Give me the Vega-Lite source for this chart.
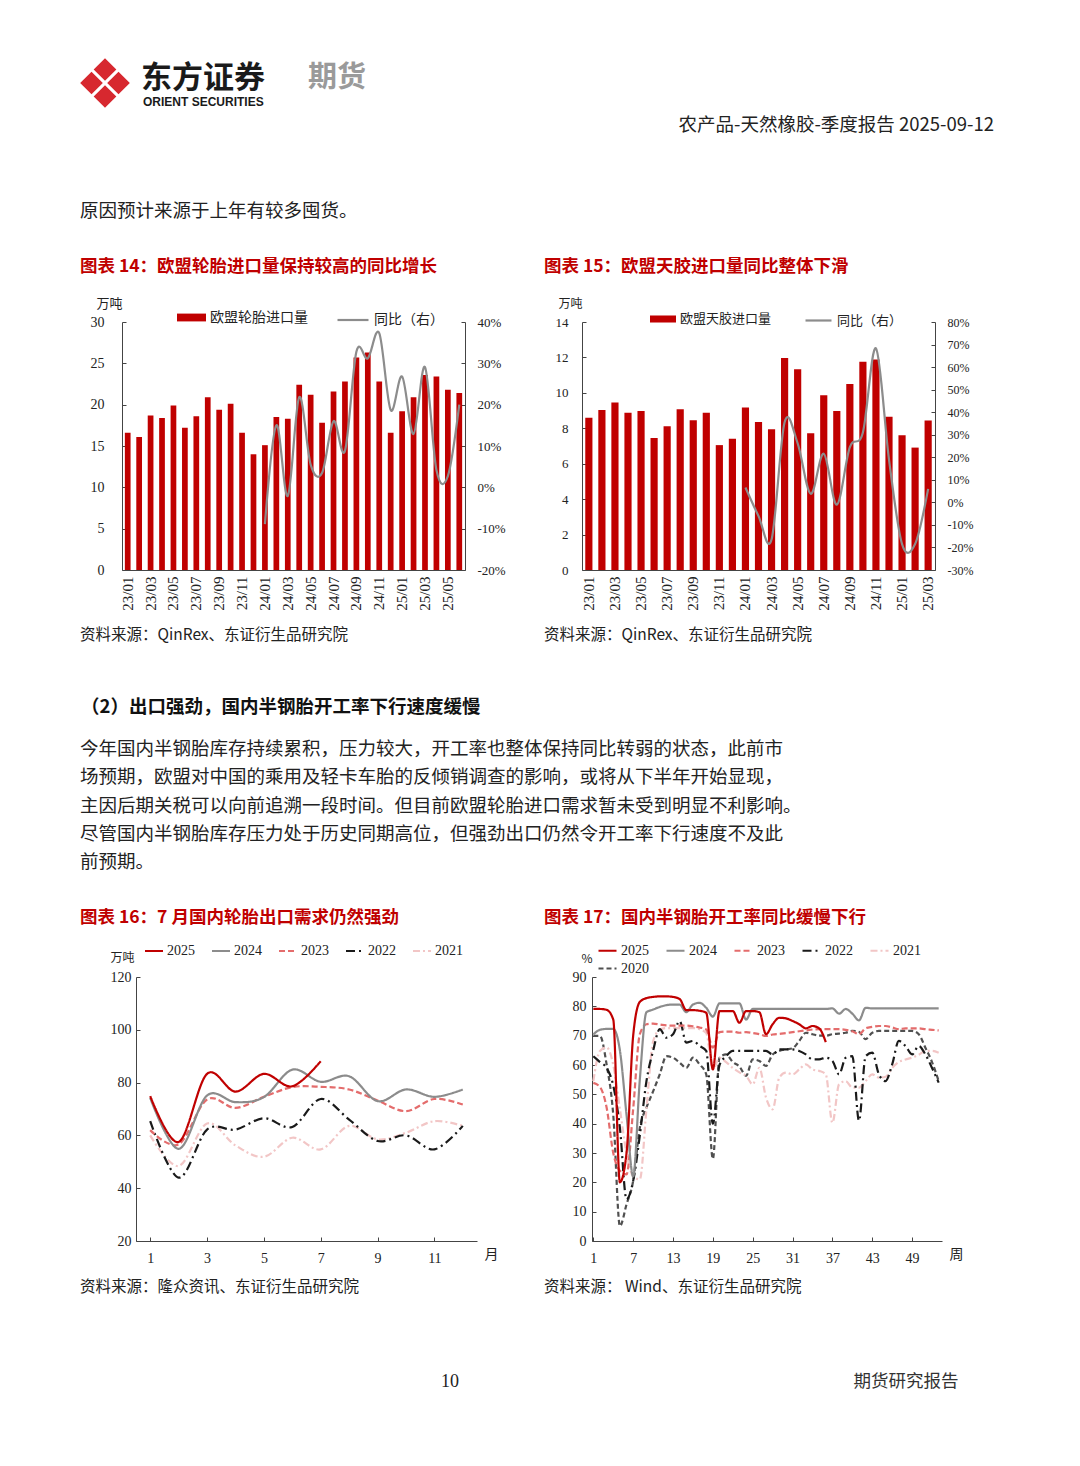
{
  "$schema": "https://vega.github.io/schema/vega-lite/v6.json",
  "padding": 0,
  "background": "#ffffff",
  "columns": 4,
  "align": "each",
  "bounds": "flush",
  "spacing": 0,
  "resolve": {
    "scale": {"fill": "independent", "stroke": "independent", "color": "independent", "strokeDash": "independent", "strokeWidth": "independent"},
    "legend": {"fill": "independent", "stroke": "independent", "color": "independent", "strokeDash": "independent", "strokeWidth": "independent"}
  },
  "config": {
    "view": {"stroke": null},
    "font": "Noto Sans CJK SC",
    "axis": {"grid": false, "labelFont": "Liberation Serif", "labelColor": "#222222", "domainColor": "#444444", "tickColor": "#444444", "titleFont": "Noto Sans CJK SC", "titleFontWeight": "normal", "titleColor": "#222222", "labelFontSize": 14},
    "legend": {"labelFont": "Noto Sans CJK SC", "labelColor": "#222222", "padding": 0},
    "text": {"font": "Noto Sans CJK SC"}
  },
  "concat": [
    {
      "width": 121, "height": 321,
      "data": {"values": [{}]},
      "layer": [
        {"mark": {"type": "point", "shape": "M0,-0.92L0.42,-0.5L0,-0.08L-0.42,-0.5Z M0.92,0L0.5,0.42L0.08,0L0.5,-0.42Z M0,0.92L-0.42,0.5L0,0.08L0.42,0.5Z M-0.92,0L-0.5,-0.42L-0.08,0L-0.5,0.42Z", "filled": true, "color": "#d7282f", "opacity": 1, "size": 2916, "x": 104, "y": 82, "strokeWidth": 0}, "encoding": {}},
        {"mark": {"type": "text", "x": 140, "y": 78, "text": "东方证券", "align": "left", "baseline": "middle", "fontSize": 31, "fontWeight": "bold", "color": "#1a1a1a"}, "encoding": {}},
        {"mark": {"type": "text", "x": 142, "y": 101, "text": "ORIENT SECURITIES", "align": "left", "baseline": "middle", "fontSize": 12, "fontWeight": "bold", "font": "Liberation Sans", "color": "#1a1a1a"}, "encoding": {}},
        {"mark": {"type": "rule", "x": 286, "x2": 286, "y": 55, "y2": 110, "color": "#d2c2a8", "strokeWidth": 1.2}, "encoding": {}},
        {"mark": {"type": "text", "x": 307, "y": 77, "text": "期货", "align": "left", "baseline": "middle", "fontSize": 29, "fontWeight": "bold", "color": "#9a9a9a"}, "encoding": {}},
        {"mark": {"type": "text", "x": 993, "y": 124, "text": "农产品-天然橡胶-季度报告 2025-09-12", "align": "right", "baseline": "middle", "fontSize": 18.5, "color": "#222222"}, "encoding": {}},
        {"mark": {"type": "rule", "x": 78, "x2": 1000, "y": 138, "y2": 138, "color": "#333333", "strokeWidth": 1.5}, "encoding": {}},
        {"mark": {"type": "text", "x": 79, "y": 210, "text": "原因预计来源于上年有较多囤货。", "align": "left", "baseline": "middle", "fontSize": 18.5, "color": "#222222"}, "encoding": {}},
        {"mark": {"type": "text", "x": 79, "y": 266, "text": "图表 14：欧盟轮胎进口量保持较高的同比增长", "align": "left", "baseline": "middle", "fontSize": 17.5, "fontWeight": "bold", "color": "#c00000"}, "encoding": {}},
        {"mark": {"type": "text", "x": 543, "y": 266, "text": "图表 15：欧盟天胶进口量同比整体下滑", "align": "left", "baseline": "middle", "fontSize": 17.5, "fontWeight": "bold", "color": "#c00000"}, "encoding": {}},
        {"mark": {"type": "rule", "x": 78, "x2": 517, "y": 281, "y2": 281, "color": "#555555", "strokeWidth": 1.2}, "encoding": {}},
        {"mark": {"type": "rule", "x": 543, "x2": 983, "y": 281, "y2": 281, "color": "#555555", "strokeWidth": 1.2}, "encoding": {}}
      ]
    },
    {"width": 343, "height": 321, "data": {"values": [{}]}, "mark": {"type": "text", "text": ""}},
    {"width": 117, "height": 321, "data": {"values": [{}]}, "mark": {"type": "text", "text": ""}},
    {"width": 353, "height": 321, "data": {"values": [{}]}, "mark": {"type": "text", "text": ""}},

    {"width": 121, "height": 248, "data": {"values": [{}]}, "mark": {"type": "text", "text": ""}},
    {
      "width": 343, "height": 248,
      "data": {"values": [
        {"m": "23/01", "v": 16.6}, {"m": "23/02", "v": 16.1}, {"m": "23/03", "v": 18.7}, {"m": "23/04", "v": 18.4},
        {"m": "23/05", "v": 19.9}, {"m": "23/06", "v": 17.2}, {"m": "23/07", "v": 18.6}, {"m": "23/08", "v": 20.9},
        {"m": "23/09", "v": 19.4}, {"m": "23/10", "v": 20.1}, {"m": "23/11", "v": 16.6}, {"m": "23/12", "v": 14.0},
        {"m": "24/01", "v": 15.1, "r": -8.9}, {"m": "24/02", "v": 18.5, "r": 15.0}, {"m": "24/03", "v": 18.3, "r": -2.1},
        {"m": "24/04", "v": 22.4, "r": 21.8}, {"m": "24/05", "v": 21.2, "r": 5.5}, {"m": "24/06", "v": 17.8, "r": 3.5},
        {"m": "24/07", "v": 21.6, "r": 16.0}, {"m": "24/08", "v": 22.8, "r": 8.8}, {"m": "24/09", "v": 25.7, "r": 32.8},
        {"m": "24/10", "v": 26.3, "r": 31.2}, {"m": "24/11", "v": 22.8, "r": 37.3}, {"m": "24/12", "v": 16.6, "r": 18.7},
        {"m": "25/01", "v": 19.2, "r": 26.8}, {"m": "25/02", "v": 20.9, "r": 12.9}, {"m": "25/03", "v": 23.6, "r": 29.1},
        {"m": "25/04", "v": 23.4, "r": 4.2}, {"m": "25/05", "v": 21.8, "r": 2.7}, {"m": "25/06", "v": 21.4, "r": 20.0}
      ]},
      "layer": [
        {"mark": {"type": "bar"},
         "encoding": {
           "x": {"field": "m", "type": "ordinal", "sort": "ascending", "scale": {"paddingInner": 0.5, "paddingOuter": 0.25},
                 "axis": {"values": ["23/01","23/03","23/05","23/07","23/09","23/11","24/01","24/03","24/05","24/07","24/09","24/11","25/01","25/03","25/05"], "labelAngle": 270, "labelFontSize": 15, "ticks": false, "labelPadding": 6, "title": null}},
           "y": {"field": "v", "type": "quantitative", "scale": {"domain": [0, 30]},
                 "axis": {"values": [0,5,10,15,20,25,30], "title": "万吨", "titleAngle": 0, "titleAlign": "left", "titleBaseline": "middle", "titleX": -26, "titleY": -19, "titleFontSize": 13, "tickSize": -4, "labelPadding": 22, "labelFontSize": 14}},
           "fill": {"datum": "欧盟轮胎进口量", "scale": {"range": ["#c00000"]},
                    "legend": {"orient": "none", "legendX": 55, "legendY": -19, "title": null, "symbolType": "M-1,-0.27L1,-0.27L1,0.27L-1,0.27Z", "symbolSize": 841, "symbolStrokeWidth": 0, "labelFontSize": 14}}
         }},
        {"mark": {"type": "line", "interpolate": "cardinal", "strokeWidth": 2.2},
         "encoding": {
           "x": {"field": "m", "type": "ordinal", "sort": "ascending"},
           "y": {"field": "r", "type": "quantitative", "scale": {"domain": [-20, 40]},
                 "axis": {"orient": "right", "values": [-20,-10,0,10,20,30,40], "labelExpr": "datum.value + '%'", "title": null, "tickSize": -4, "labelPadding": 16, "labelFontSize": 13}},
           "stroke": {"datum": "同比（右）", "scale": {"range": ["#8c8c8c"]},
                      "legend": {"orient": "none", "legendX": 214, "legendY": -19, "title": null, "symbolType": "stroke", "symbolSize": 961, "symbolStrokeWidth": 2.2, "labelFontSize": 14}}
         }}
      ],
      "resolve": {"scale": {"y": "independent"}}
    },
    {"width": 117, "height": 248, "data": {"values": [{}]}, "mark": {"type": "text", "text": ""}},
    {
      "width": 353, "height": 248,
      "data": {"values": [
        {"m": "23/01", "v": 8.6}, {"m": "23/02", "v": 9.03}, {"m": "23/03", "v": 9.45}, {"m": "23/04", "v": 8.88},
        {"m": "23/05", "v": 8.98}, {"m": "23/06", "v": 7.45}, {"m": "23/07", "v": 8.12}, {"m": "23/08", "v": 9.07},
        {"m": "23/09", "v": 8.46}, {"m": "23/10", "v": 8.88}, {"m": "23/11", "v": 7.05}, {"m": "23/12", "v": 7.41},
        {"m": "24/01", "v": 9.17, "r": 6.6}, {"m": "24/02", "v": 8.35, "r": -6}, {"m": "24/03", "v": 7.95, "r": -16.5},
        {"m": "24/04", "v": 11.97, "r": 35.5}, {"m": "24/05", "v": 11.33, "r": 26.2}, {"m": "24/06", "v": 7.72, "r": 3.8},
        {"m": "24/07", "v": 9.87, "r": 21.6}, {"m": "24/08", "v": 8.98, "r": -1}, {"m": "24/09", "v": 10.5, "r": 24.5},
        {"m": "24/10", "v": 11.75, "r": 31}, {"m": "24/11", "v": 11.88, "r": 68.3}, {"m": "24/12", "v": 8.65, "r": 19},
        {"m": "25/01", "v": 7.6, "r": -18.5}, {"m": "25/02", "v": 6.91, "r": -18.5}, {"m": "25/03", "v": 8.44, "r": 6}
      ]},
      "layer": [
        {"mark": {"type": "bar"},
         "encoding": {
           "x": {"field": "m", "type": "ordinal", "sort": "ascending", "scale": {"paddingInner": 0.45, "paddingOuter": 0.25},
                 "axis": {"values": ["23/01","23/03","23/05","23/07","23/09","23/11","24/01","24/03","24/05","24/07","24/09","24/11","25/01","25/03"], "labelAngle": 270, "labelFontSize": 15, "ticks": false, "labelPadding": 6, "title": null}},
           "y": {"field": "v", "type": "quantitative", "scale": {"domain": [0, 14]},
                 "axis": {"values": [0,2,4,6,8,10,12,14], "title": "万吨", "titleAngle": 0, "titleAlign": "left", "titleBaseline": "middle", "titleX": -24, "titleY": -19, "titleFontSize": 12, "tickSize": -4, "labelPadding": 18, "labelFontSize": 13}},
           "fill": {"datum": "欧盟天胶进口量", "scale": {"range": ["#c00000"]},
                    "legend": {"orient": "none", "legendX": 68, "legendY": -16, "title": null, "symbolType": "M-1,-0.27L1,-0.27L1,0.27L-1,0.27Z", "symbolSize": 676, "symbolStrokeWidth": 0, "labelFontSize": 13}}
         }},
        {"mark": {"type": "line", "interpolate": "cardinal", "strokeWidth": 2.2},
         "encoding": {
           "x": {"field": "m", "type": "ordinal", "sort": "ascending"},
           "y": {"field": "r", "type": "quantitative", "scale": {"domain": [-30, 80]},
                 "axis": {"orient": "right", "values": [-30,-20,-10,0,10,20,30,40,50,60,70,80], "labelExpr": "datum.value + '%'", "title": null, "tickSize": -4, "labelPadding": 16, "labelFontSize": 12}},
           "stroke": {"datum": "同比（右）", "scale": {"range": ["#8c8c8c"]},
                      "legend": {"orient": "none", "legendX": 222, "legendY": -16, "title": null, "symbolType": "stroke", "symbolSize": 676, "symbolStrokeWidth": 2.2, "labelFontSize": 13}}
         }}
      ],
      "resolve": {"scale": {"y": "independent"}}
    },

    {
      "width": 121, "height": 407,
      "data": {"values": [{}]},
      "layer": [
        {"mark": {"type": "rule", "x": 78, "x2": 517, "y": 51, "y2": 51, "color": "#555555", "strokeWidth": 1.2}, "encoding": {}},
        {"mark": {"type": "rule", "x": 543, "x2": 983, "y": 51, "y2": 51, "color": "#555555", "strokeWidth": 1.2}, "encoding": {}},
        {"mark": {"type": "text", "x": 79, "y": 65, "text": "资料来源：QinRex、东证衍生品研究院", "align": "left", "baseline": "middle", "fontSize": 15.5, "color": "#222222"}, "encoding": {}},
        {"mark": {"type": "text", "x": 543, "y": 65, "text": "资料来源：QinRex、东证衍生品研究院", "align": "left", "baseline": "middle", "fontSize": 15.5, "color": "#222222"}, "encoding": {}},
        {"mark": {"type": "text", "x": 80, "y": 137, "text": "（2）出口强劲，国内半钢胎开工率下行速度缓慢", "align": "left", "baseline": "middle", "fontSize": 18.5, "fontWeight": "bold", "color": "#111111"}, "encoding": {}},
        {"data": {"values": [
          {"i": 0, "t": "今年国内半钢胎库存持续累积，压力较大，开工率也整体保持同比转弱的状态，此前市"},
          {"i": 1, "t": "场预期，欧盟对中国的乘用及轻卡车胎的反倾销调查的影响，或将从下半年开始显现，"},
          {"i": 2, "t": "主因后期关税可以向前追溯一段时间。但目前欧盟轮胎进口需求暂未受到明显不利影响。"},
          {"i": 3, "t": "尽管国内半钢胎库存压力处于历史同期高位，但强劲出口仍然令开工率下行速度不及此"},
          {"i": 4, "t": "前预期。"}
         ]},
         "mark": {"type": "text", "x": 79, "align": "left", "baseline": "middle", "fontSize": 18.5, "color": "#222222"},
         "encoding": {"y": {"field": "i", "type": "quantitative", "scale": {"domain": [0, 4], "range": [179, 292]}, "axis": null}, "text": {"field": "t"}}},
        {"mark": {"type": "text", "x": 79, "y": 348, "text": "图表 16：7 月国内轮胎出口需求仍然强劲", "align": "left", "baseline": "middle", "fontSize": 17.5, "fontWeight": "bold", "color": "#c00000"}, "encoding": {}},
        {"mark": {"type": "text", "x": 543, "y": 348, "text": "图表 17：国内半钢胎开工率同比缓慢下行", "align": "left", "baseline": "middle", "fontSize": 17.5, "fontWeight": "bold", "color": "#c00000"}, "encoding": {}},
        {"mark": {"type": "rule", "x": 78, "x2": 517, "y": 364, "y2": 364, "color": "#555555", "strokeWidth": 1.2}, "encoding": {}},
        {"mark": {"type": "rule", "x": 543, "x2": 983, "y": 364, "y2": 364, "color": "#555555", "strokeWidth": 1.2}, "encoding": {}}
      ]
    },
    {"width": 343, "height": 407, "data": {"values": [{}]}, "mark": {"type": "text", "text": ""}},
    {"width": 117, "height": 407, "data": {"values": [{}]}, "mark": {"type": "text", "text": ""}},
    {"width": 353, "height": 407, "data": {"values": [{}]}, "mark": {"type": "text", "text": ""}},

    {"width": 121, "height": 264, "data": {"values": [{}]}, "mark": {"type": "text", "text": ""}},
    {
      "width": 343, "height": 264,
      "data": {"values": [
        {"month": 1, "2025": 74.9, "2024": 74.2, "2023": 62, "2022": 65.4, "2021": 60},
        {"month": 2, "2025": 57.5, "2024": 54.9, "2023": 56.6, "2022": 44, "2021": 48.4},
        {"month": 3, "2025": 83.3, "2024": 75.1, "2023": 73.6, "2022": 62.2, "2021": 64.5},
        {"month": 4, "2025": 76.6, "2024": 72.6, "2023": 70.4, "2022": 62.2, "2021": 56.2},
        {"month": 5, "2025": 83.3, "2024": 74.5, "2023": 74.6, "2022": 66.5, "2021": 51.9},
        {"month": 6, "2025": 78.6, "2024": 84.9, "2023": 78.3, "2022": 63.2, "2021": 59.1},
        {"month": 7, "2025": 88.1, "2024": 80.3, "2023": 78.4, "2022": 73.8, "2021": 54.7},
        {"month": 8, "2024": 82.4, "2023": 77.4, "2022": 66, "2021": 63.6},
        {"month": 9, "2024": 73, "2023": 73.2, "2022": 57.9, "2021": 58.5},
        {"month": 10, "2024": 77.4, "2023": 69.2, "2022": 60, "2021": 61},
        {"month": 11, "2024": 74.6, "2023": 73.8, "2022": 54.7, "2021": 65.4},
        {"month": 12, "2024": 77.4, "2023": 71.7, "2022": 63.6, "2021": 63.6}
      ]},
      "transform": [{"fold": ["2021", "2022", "2023", "2024", "2025"], "as": ["year", "value"]}],
      "mark": {"type": "line", "interpolate": "cardinal", "strokeWidth": 2.2},
      "encoding": {
        "x": {"field": "month", "type": "quantitative", "scale": {"domain": [0.5, 12.5], "nice": false, "range": [14, 355]},
              "axis": {"values": [1,3,5,7,9,11], "title": "月", "titleX": 369, "titleY": 13, "titleAngle": 0, "titleAlign": "center", "titleBaseline": "middle", "titleFontSize": 14, "tickSize": -4, "labelPadding": 14, "labelFontSize": 14, "labelFlush": false}},
        "y": {"field": "value", "type": "quantitative", "scale": {"domain": [20, 120]},
              "axis": {"offset": -14, "values": [20,40,60,80,100,120], "title": "万吨", "titleX": -26, "titleY": -20, "titleAngle": 0, "titleAlign": "left", "titleBaseline": "middle", "titleFontSize": 12, "tickSize": -4, "labelPadding": 9, "labelFontSize": 14}},
        "color": {"field": "year", "type": "nominal",
                  "scale": {"domain": ["2025", "2024", "2023", "2022", "2021"], "range": ["#c00000", "#8c8c8c", "#e46c6c", "#1a1a1a", "#f2c6c6"]},
                  "legend": {"orient": "none", "legendX": 22, "legendY": -36, "direction": "horizontal", "columns": 5, "title": null, "symbolType": "stroke", "symbolSize": 324, "symbolStrokeWidth": 2, "labelFont": "Liberation Serif", "labelFontSize": 14, "columnPadding": 13, "labelOffset": 3}},
        "strokeDash": {"field": "year", "type": "nominal",
                  "scale": {"domain": ["2025", "2024", "2023", "2022", "2021"], "range": [[1, 0], [1, 0], [6, 3], [9, 4, 2, 4], [7, 3, 2, 3]]},
                  "legend": {"orient": "none", "legendX": 22, "legendY": -36, "direction": "horizontal", "columns": 5, "title": null, "symbolType": "stroke", "symbolSize": 324, "symbolStrokeWidth": 2, "labelFont": "Liberation Serif", "labelFontSize": 14, "columnPadding": 13, "labelOffset": 3}}
      }
    },
    {"width": 117, "height": 264, "data": {"values": [{}]}, "mark": {"type": "text", "text": ""}},
    {
      "width": 360, "height": 264,
      "data": {"values": [
        {"w": 1, "2025": 79.1, "2024": 70.4, "2023": 53.9, "2022": 63, "2021": 54.5, "2020": 69.9},
        {"w": 2, "2025": 79.1, "2024": 72, "2023": 52.5, "2022": 61, "2021": 64.8, "2020": 69.9},
        {"w": 3, "2025": 78.8, "2024": 72.3, "2023": 45.5, "2022": 59, "2021": 66, "2020": 60.2},
        {"w": 4, "2025": 75.5, "2024": 72.3, "2023": 30, "2022": 53, "2021": 60, "2020": 43},
        {"w": 5, "2025": 20, "2024": 65, "2023": 24, "2022": 38.6, "2021": 45, "2020": 5.1},
        {"w": 6, "2025": 30, "2024": 43, "2023": 22.7, "2022": 14.2, "2021": 30, "2020": 12.5},
        {"w": 7, "2025": 70, "2024": 22, "2023": 45, "2022": 20.5, "2021": 22, "2020": 20.5},
        {"w": 8, "2025": 81.5, "2024": 55, "2023": 70.5, "2022": 36, "2021": 21, "2020": 38.6},
        {"w": 9, "2025": 82.8, "2024": 78, "2023": 73.9, "2022": 54.5, "2021": 45, "2020": 45.5},
        {"w": 10, "2025": 83.2, "2024": 78.9, "2023": 74.1, "2022": 64.8, "2021": 68, "2020": 51},
        {"w": 11, "2025": 83.4, "2024": 79.8, "2023": 73.8, "2022": 72.2, "2021": 72, "2020": 56.8},
        {"w": 12, "2025": 83.4, "2024": 80.4, "2023": 73.5, "2022": 69.3, "2021": 72.6, "2020": 63},
        {"w": 13, "2025": 83.2, "2024": 80.6, "2023": 73.4, "2022": 70.5, "2021": 72.6, "2020": 62.5},
        {"w": 14, "2025": 82.5, "2024": 80.6, "2023": 73.4, "2022": 75, "2021": 72.6, "2020": 60.8},
        {"w": 15, "2025": 78.7, "2024": 78, "2023": 73.4, "2022": 67.6, "2021": 72.6, "2020": 59},
        {"w": 16, "2025": 78.7, "2024": 80.6, "2023": 73.2, "2022": 68.2, "2021": 72.6, "2020": 62.5},
        {"w": 17, "2025": 78.5, "2024": 81.2, "2023": 72.8, "2022": 66.5, "2021": 72.2, "2020": 60.2},
        {"w": 18, "2025": 77.8, "2024": 79.5, "2023": 72.1, "2022": 64.8, "2021": 70.9, "2020": 56.8},
        {"w": 19, "2025": 58.5, "2024": 76.5, "2023": 65.9, "2022": 40, "2021": 58.5, "2020": 28},
        {"w": 20, "2025": 78.4, "2024": 81, "2023": 71.2, "2022": 60, "2021": 62.5, "2020": 62.5},
        {"w": 21, "2025": 78.4, "2024": 81, "2023": 71.4, "2022": 63, "2021": 61, "2020": 63.6},
        {"w": 22, "2025": 78.4, "2024": 81, "2023": 71.4, "2022": 64.8, "2021": 59, "2020": 61},
        {"w": 23, "2025": 74.4, "2024": 81, "2023": 71, "2022": 64.8, "2021": 57.5, "2020": 59.5},
        {"w": 24, "2025": 78.4, "2024": 75.5, "2023": 71.2, "2022": 64.8, "2021": 56.3, "2020": 56.3},
        {"w": 25, "2025": 78.4, "2024": 79.1, "2023": 70.9, "2022": 64.8, "2021": 53.4, "2020": 61.9},
        {"w": 26, "2025": 78, "2024": 79.1, "2023": 70.5, "2022": 64.8, "2021": 59, "2020": 61.4},
        {"w": 27, "2025": 70.5, "2024": 79.1, "2023": 69.9, "2022": 64.8, "2021": 48.9, "2020": 59.7},
        {"w": 28, "2025": 73.9, "2024": 79.1, "2023": 70.4, "2022": 63.6, "2021": 44.9, "2020": 63.6},
        {"w": 29, "2025": 76.1, "2024": 79.1, "2023": 70.6, "2022": 65.3, "2021": 55.7, "2020": 64.8},
        {"w": 30, "2025": 75.9, "2024": 79.1, "2023": 70.9, "2022": 65.3, "2021": 57.4, "2020": 65.3},
        {"w": 31, "2025": 75, "2024": 79.1, "2023": 71.2, "2022": 65.3, "2021": 56.8, "2020": 65.7},
        {"w": 32, "2025": 73.9, "2024": 79.1, "2023": 71.5, "2022": 64.8, "2021": 58.5, "2020": 68.2},
        {"w": 33, "2025": 72.5, "2024": 79.1, "2023": 71.8, "2022": 63.6, "2021": 60.2, "2020": 71},
        {"w": 34, "2025": 73.3, "2024": 79.1, "2023": 72.1, "2022": 61.9, "2021": 58.5, "2020": 70.5},
        {"w": 35, "2025": 72.5, "2024": 79.1, "2023": 72.2, "2022": 61.9, "2021": 58, "2020": 70},
        {"w": 36, "2025": 67.8, "2024": 79.1, "2023": 72.2, "2022": 62.5, "2021": 56.8, "2020": 70},
        {"w": 37, "2024": 79.3, "2023": 72.2, "2022": 61.4, "2021": 40.3, "2020": 70.5},
        {"w": 38, "2024": 77.5, "2023": 72.2, "2022": 56.8, "2021": 53.4, "2020": 70.7},
        {"w": 39, "2024": 79.1, "2023": 72, "2022": 62.5, "2021": 54.5, "2020": 71},
        {"w": 40, "2024": 77.5, "2023": 71.5, "2022": 63, "2021": 52.3, "2020": 71.6},
        {"w": 41, "2024": 75.2, "2023": 70.5, "2022": 41, "2021": 52.3, "2020": 71.3},
        {"w": 42, "2024": 79.5, "2023": 72.5, "2022": 63, "2021": 54.5, "2020": 68.8},
        {"w": 43, "2024": 79.3, "2023": 73, "2022": 64.2, "2021": 56.8, "2020": 71},
        {"w": 44, "2024": 79.3, "2023": 73.3, "2022": 56.8, "2021": 55.7, "2020": 71.6},
        {"w": 45, "2024": 79.3, "2023": 73.3, "2022": 54.5, "2021": 56, "2020": 71.6},
        {"w": 46, "2024": 79.3, "2023": 72.8, "2022": 60.2, "2021": 59, "2020": 71.6},
        {"w": 47, "2024": 79.3, "2023": 72.2, "2022": 68.2, "2021": 61, "2020": 71.6},
        {"w": 48, "2024": 79.3, "2023": 72.5, "2022": 66.5, "2021": 61.9, "2020": 71.6},
        {"w": 49, "2024": 79.3, "2023": 72.5, "2022": 63.6, "2021": 62.5, "2020": 71.6},
        {"w": 50, "2024": 79.3, "2023": 72.5, "2022": 66.5, "2021": 63.5, "2020": 70.5},
        {"w": 51, "2024": 79.3, "2023": 72.2, "2022": 63.6, "2021": 64.8, "2020": 65.9},
        {"w": 52, "2024": 79.3, "2023": 72, "2022": 59, "2021": 64.8, "2020": 61},
        {"w": 53, "2024": 79.3, "2023": 71.8, "2022": 54, "2021": 64.2, "2020": 54.5}
      ]},
      "transform": [{"fold": ["2020", "2021", "2022", "2023", "2024", "2025"], "as": ["year", "value"]}],
      "mark": {"type": "line", "interpolate": "monotone"},
      "encoding": {
        "x": {"field": "w", "type": "quantitative", "scale": {"domain": [0.8, 53.5], "nice": false, "range": [10, 360]},
              "axis": {"values": [1,7,13,19,25,31,37,43,49], "title": "周", "titleX": 374, "titleY": 13, "titleAngle": 0, "titleAlign": "center", "titleBaseline": "middle", "titleFontSize": 14, "tickSize": -4, "labelPadding": 14, "labelFontSize": 14, "labelFlush": false}},
        "y": {"field": "value", "type": "quantitative", "scale": {"domain": [0, 90]},
              "axis": {"offset": -10, "values": [0,10,20,30,40,50,60,70,80,90], "title": "%", "titleX": -11, "titleY": -19, "titleAngle": 0, "titleAlign": "left", "titleBaseline": "middle", "titleFontSize": 12, "tickSize": -4, "labelPadding": 10, "labelFontSize": 14}},
        "color": {"field": "year", "type": "nominal",
                  "scale": {"domain": ["2025", "2024", "2023", "2022", "2021", "2020"], "range": ["#c00000", "#8c8c8c", "#e46c6c", "#1a1a1a", "#f2c6c6", "#505050"]},
                  "legend": {"orient": "none", "legendX": 15, "legendY": -37, "direction": "horizontal", "columns": 5, "title": null, "symbolType": "stroke", "symbolSize": 324, "symbolStrokeWidth": 2, "labelFont": "Liberation Serif", "labelFontSize": 14, "columnPadding": 13, "labelOffset": 3, "rowPadding": 0}},
        "strokeDash": {"field": "year", "type": "nominal",
                  "scale": {"domain": ["2025", "2024", "2023", "2022", "2021", "2020"], "range": [[1, 0], [1, 0], [6, 3], [9, 4, 2, 4], [7, 3, 2, 3], [5, 3]]},
                  "legend": {"orient": "none", "legendX": 15, "legendY": -37, "direction": "horizontal", "columns": 5, "title": null, "symbolType": "stroke", "symbolSize": 324, "symbolStrokeWidth": 2, "labelFont": "Liberation Serif", "labelFontSize": 14, "columnPadding": 13, "labelOffset": 3, "rowPadding": 0}},
        "strokeWidth": {"field": "year", "type": "nominal",
                  "scale": {"domain": ["2025", "2024", "2023", "2022", "2021", "2020"], "range": [2.2, 2.2, 2, 2.2, 2, 1.6]}, "legend": null}
      }
    },

    {
      "width": 121, "height": 226,
      "data": {"values": [{}]},
      "layer": [
        {"mark": {"type": "rule", "x": 78, "x2": 517, "y": 31, "y2": 31, "color": "#555555", "strokeWidth": 1.2}, "encoding": {}},
        {"mark": {"type": "rule", "x": 543, "x2": 983, "y": 31, "y2": 31, "color": "#555555", "strokeWidth": 1.2}, "encoding": {}},
        {"mark": {"type": "text", "x": 79, "y": 46, "text": "资料来源：隆众资讯、东证衍生品研究院", "align": "left", "baseline": "middle", "fontSize": 15.5, "color": "#222222"}, "encoding": {}},
        {"mark": {"type": "text", "x": 543, "y": 46, "text": "资料来源：  Wind、东证衍生品研究院", "align": "left", "baseline": "middle", "fontSize": 15.5, "color": "#222222"}, "encoding": {}},
        {"mark": {"type": "rule", "x": 83, "x2": 985, "y": 118, "y2": 118, "color": "#222222", "strokeWidth": 2}, "encoding": {}},
        {"mark": {"type": "text", "x": 449, "y": 141, "text": "10", "align": "center", "baseline": "middle", "fontSize": 18, "font": "Liberation Serif", "color": "#222222"}, "encoding": {}},
        {"mark": {"type": "text", "x": 905, "y": 141, "text": "期货研究报告", "align": "center", "baseline": "middle", "fontSize": 17.5, "color": "#333333"}, "encoding": {}}
      ]
    },
    {"width": 343, "height": 226, "data": {"values": [{}]}, "mark": {"type": "text", "text": ""}},
    {"width": 117, "height": 226, "data": {"values": [{}]}, "mark": {"type": "text", "text": ""}},
    {"width": 353, "height": 226, "data": {"values": [{}]}, "mark": {"type": "text", "text": ""}}
  ]
}
